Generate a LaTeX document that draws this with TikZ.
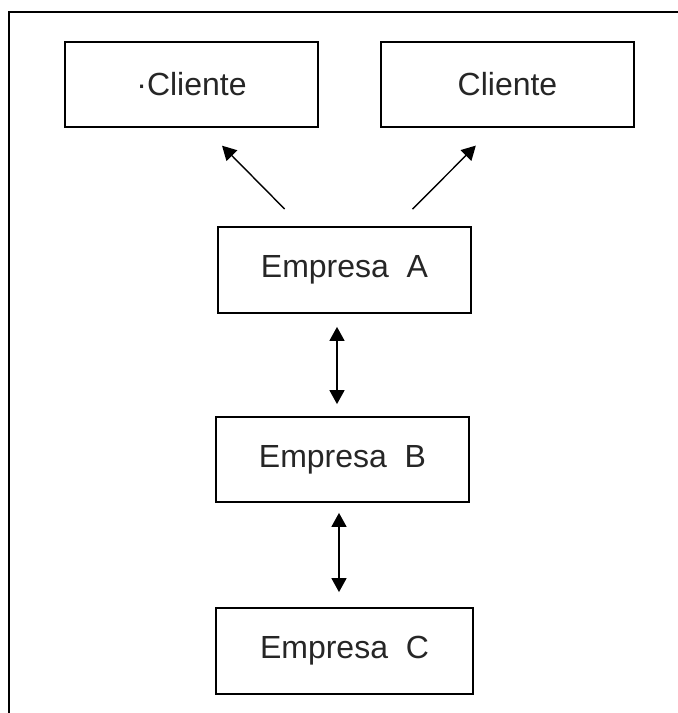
\documentclass[tikz,border=0pt]{standalone}
\usepackage{fontspec}
\setmainfont{Liberation Sans}
\usetikzlibrary{positioning, arrows.meta}

\begin{document}
\begin{tikzpicture}[x=1pt, y=-1pt]
        % Define styles for shapes
        \tikzstyle{caja} = [draw, line width=1.8pt, minimum width=253pt, minimum height=85pt, inner sep=0pt, text=black!85, font=\fontsize{32pt}{36pt}\selectfont]
        \tikzstyle{flecha} = [line width=1.4pt, -{Triangle[length=14pt, width=15pt]}]
        \tikzstyle{dobleflecha} = [line width=1.6pt, {Triangle[length=14pt, width=15pt]}-{Triangle[length=14pt, width=15pt]}]
        \useasboundingbox (0,0) rectangle (678,713);
        % Frame
        \draw[line width=1.8pt] (9,713) -- (9,12) -- (678,12);
        % Draw shapes
        \node[caja] (cliente1) at (191.5, 84.5) {·Cliente};
        \node[caja] (cliente2) at (507.5, 84.5) {Cliente};
        \node[caja, minimum height=86pt] (empA) at (344.5, 270) {Empresa\ \ A};
        \node[caja] (empB) at (342.5, 459.5) {Empresa\ \ B};
        \node[caja, minimum width=257pt, minimum height=86pt] (empC) at (344.5, 651) {Empresa\ \ C};

        % Draw arrows
        \draw[flecha, shorten <=24pt, shorten >=25pt] ([xshift=-43pt]empA.north) -- ([xshift=13pt]cliente1.south);
        \draw[flecha, shorten <=24pt, shorten >=25pt] ([xshift=51pt]empA.north) -- ([xshift=-14pt]cliente2.south);
        \draw[dobleflecha, shorten <=13pt, shorten >=12pt] ([xshift=-7.5pt]empA.south) -- ([xshift=-5.5pt]empB.north);
        \draw[dobleflecha, shorten <=10pt, shorten >=15pt] ([xshift=-3.5pt]empB.south) -- ([xshift=-5.5pt]empC.north);
    \end{tikzpicture}
\end{document}
